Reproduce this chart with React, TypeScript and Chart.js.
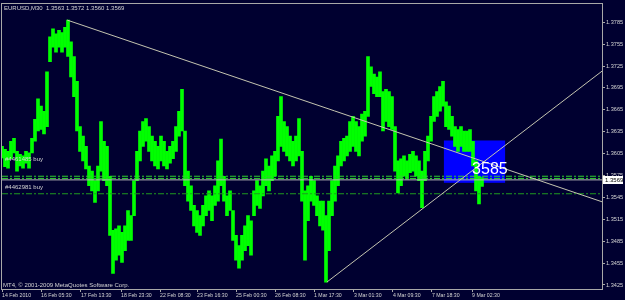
import { useEffect, useRef } from 'react';
import { Chart, registerables } from 'chart.js';

Chart.register(...registerables);

// ---- data ----
const chartTitle = 'EURUSD,M30  1.3563 1.3572 1.3560 1.3569';
const copyright = 'MT4, \u00a9 2001-2009 MetaQuotes Software Corp.';

// one entry per sampled slot (left to right)
const highs = [
  1.3615, 1.3611, 1.3608, 1.3622, 1.3626, 1.3608, 1.3604, 1.3602, 1.3608, 1.3606,
  1.3626, 1.3652, 1.3680, 1.3670, 1.3663, 1.3717, 1.3765, 1.3776, 1.3769, 1.3774,
  1.3771, 1.3778, 1.3788, 1.3758, 1.3738, 1.3704, 1.3642, 1.3629, 1.3615, 1.3588,
  1.3581, 1.3568, 1.3588, 1.3649, 1.3622, 1.3615, 1.3574, 1.3500, 1.3502, 1.3506,
  1.3497, 1.3506, 1.3527, 1.3520, 1.3568, 1.3608, 1.3636, 1.3649, 1.3653, 1.3642,
  1.3629, 1.3622, 1.3615, 1.3629, 1.3622, 1.3608, 1.3615, 1.3622, 1.3642, 1.3663,
  1.3693, 1.3636, 1.3581, 1.3561, 1.3534, 1.3527, 1.3520, 1.3534, 1.3547, 1.3554,
  1.3547, 1.3561, 1.3595, 1.3625, 1.3574, 1.3547, 1.3554, 1.3527, 1.3493, 1.3479,
  1.3493, 1.3506, 1.3520, 1.3513, 1.3554, 1.3568, 1.3561, 1.3581, 1.3598, 1.3588,
  1.3602, 1.3608, 1.3656, 1.3683, 1.3649, 1.3642, 1.3629, 1.3622, 1.3629, 1.3653,
  1.3608, 1.3554, 1.3561, 1.3574, 1.3568, 1.3547, 1.3540, 1.3540, 1.3520, 1.3540,
  1.3568, 1.3588, 1.3602, 1.3622, 1.3626, 1.3629, 1.3649, 1.3656, 1.3649, 1.3642,
  1.3659, 1.3663, 1.3738, 1.3724, 1.3714, 1.3710, 1.3717, 1.3690, 1.3693, 1.3690,
  1.3683, 1.3642, 1.3595, 1.3598, 1.3602, 1.3595, 1.3604, 1.3608, 1.3602, 1.3595,
  1.3581, 1.3608, 1.3629, 1.3656, 1.3683, 1.3690, 1.3697, 1.3704, 1.3676, 1.3670,
  1.3656, 1.3642, 1.3638, 1.3642, 1.3636, 1.3636, 1.3638, 1.3622, 1.3595, 1.3574,
  1.3572,
];
const lows = [
  1.3599, 1.3587, 1.3585, 1.3598, 1.3606, 1.3581, 1.3588, 1.3585, 1.3592, 1.3585,
  1.3606, 1.3622, 1.3636, 1.3638, 1.3632, 1.3642, 1.3731, 1.3751, 1.3744, 1.3751,
  1.3744, 1.3751, 1.3738, 1.3710, 1.3683, 1.3636, 1.3608, 1.3595, 1.3584, 1.3561,
  1.3554, 1.3538, 1.3554, 1.3581, 1.3568, 1.3561, 1.3493, 1.3441, 1.3459, 1.3466,
  1.3456, 1.3472, 1.3486, 1.3486, 1.3520, 1.3568, 1.3595, 1.3615, 1.3622, 1.3608,
  1.3595, 1.3588, 1.3584, 1.3595, 1.3588, 1.3584, 1.3592, 1.3598, 1.3608, 1.3629,
  1.3636, 1.3561, 1.3540, 1.3527, 1.3506, 1.3497, 1.3493, 1.3506, 1.3520, 1.3527,
  1.3513, 1.3534, 1.3540, 1.3561, 1.3540, 1.3520, 1.3527, 1.3486, 1.3459, 1.3448,
  1.3459, 1.3472, 1.3479, 1.3466, 1.3520, 1.3534, 1.3530, 1.3547, 1.3561, 1.3554,
  1.3568, 1.3574, 1.3595, 1.3615, 1.3608, 1.3602, 1.3595, 1.3588, 1.3595, 1.3602,
  1.3540, 1.3459, 1.3513, 1.3540, 1.3534, 1.3520, 1.3506, 1.3500, 1.3429, 1.3472,
  1.3520, 1.3540, 1.3561, 1.3588, 1.3595, 1.3602, 1.3608, 1.3615, 1.3608, 1.3602,
  1.3622, 1.3629, 1.3656, 1.3697, 1.3687, 1.3683, 1.3683, 1.3636, 1.3649, 1.3642,
  1.3638, 1.3581, 1.3551, 1.3561, 1.3574, 1.3570, 1.3579, 1.3581, 1.3574, 1.3568,
  1.3531, 1.3568, 1.3595, 1.3622, 1.3649, 1.3656, 1.3663, 1.3670, 1.3642, 1.3638,
  1.3629, 1.3615, 1.3608, 1.3615, 1.3608, 1.3608, 1.3608, 1.3588, 1.3554, 1.3536,
  1.3560,
];

const timeTickSlots = [0, 13, 26.3, 39.7, 52.7, 65, 78, 91, 104, 117.3, 130.3, 143.3, 156.7];
const timeTickLabels = [
  '14 Feb 2010', '16 Feb 05:30', '17 Feb 13:30', '18 Feb 23:30', '22 Feb 08:30',
  '23 Feb 16:30', '25 Feb 00:30', '26 Feb 08:30', '1 Mar 17:30', '3 Mar 01:30',
  '4 Mar 09:30', '7 Mar 18:30', '9 Mar 02:30',
];
const priceTicks = [
  1.3425, 1.3455, 1.3485, 1.3515, 1.3545, 1.3575, 1.3605, 1.3635, 1.3665, 1.3695,
  1.3725, 1.3755, 1.3785,
];
const priceMin = 1.34195;
const priceMax = 1.38095;
const slotMax = 200;

const bidPrice = 1.3569;
const orderLevels = [1.3574, 1.3571];
const orderLevelLow = 1.3550;
const orderNames = ['#4461485 buy', '#4462981 buy'];
const orderNamePrices = [1.3593, 1.3555];

const trendDownX = [21.7, 200];
const trendDownY = [1.3788, 1.3539];
const trendUpX = [108.3, 200];
const trendUpY = [1.3429, 1.3718];

const boxX = [147.3, 167.7];
const boxY = [1.3623, 1.3565];
const boxLabel = '3585';
const boxLabelX = 156.7;
const boxLabelY = 1.3577;

// ---- styles ----
const BG = '#000030';
const FG = '#d4d4d4';
const FRAME = '#a8a8a8';
const TREND = '#c4c4b0';
const FONT = '"Liberation Sans", Arial, sans-serif';

const mtPlugin = {
  id: 'mt',
  beforeDraw(chart: any) {
    const { ctx, width, height } = chart;
    ctx.save();
    ctx.fillStyle = BG;
    ctx.fillRect(0, 0, width, height);
    ctx.restore();
  },
  beforeDatasetsDraw(chart: any) {
    const { ctx, chartArea } = chart;
    const xs = chart.scales.x;
    const ys = chart.scales.y;
    ctx.save();
    ctx.beginPath();
    ctx.rect(chartArea.left, chartArea.top, chartArea.right - chartArea.left, chartArea.bottom - chartArea.top);
    ctx.clip();
    const l = xs.getPixelForValue(boxX[0]);
    const r = xs.getPixelForValue(boxX[1]);
    const t = ys.getPixelForValue(boxY[0]);
    const b = ys.getPixelForValue(boxY[1]);
    ctx.fillStyle = '#0000ff';
    ctx.fillRect(l, t, r - l, b - t);
    ctx.restore();
  },
  afterDatasetsDraw(chart: any) {
    const { ctx } = chart;
    const xs = chart.scales.x;
    const ys = chart.scales.y;
    ctx.save();
    ctx.fillStyle = '#ffffff';
    ctx.font = `16px ${FONT}`;
    ctx.textBaseline = 'alphabetic';
    ctx.textAlign = 'left';
    ctx.fillText(boxLabel, xs.getPixelForValue(boxLabelX), ys.getPixelForValue(boxLabelY));

    ctx.fillStyle = FG;
    ctx.font = `6px ${FONT}`;
    ctx.textBaseline = 'bottom';
    orderNames.forEach((n, i) => {
      ctx.fillText(n, xs.getPixelForValue(1), ys.getPixelForValue(orderNamePrices[i]));
    });
    ctx.restore();
  },
  afterDraw(chart: any) {
    const { ctx, chartArea } = chart;
    const ys = chart.scales.y;
    ctx.save();
    // frame
    ctx.strokeStyle = FRAME;
    ctx.lineWidth = 1;
    ctx.strokeRect(
      Math.round(chartArea.left) - 0.5,
      Math.round(chartArea.top) - 0.5,
      Math.round(chartArea.right - chartArea.left) + 1,
      Math.round(chartArea.bottom - chartArea.top) + 1
    );
    // title + copyright
    ctx.fillStyle = FG;
    ctx.font = `6px ${FONT}`;
    ctx.textAlign = 'left';
    ctx.textBaseline = 'middle';
    ctx.fillText(chartTitle, chartArea.left + 2, chartArea.top + 4);
    ctx.fillText(copyright, chartArea.left + 1, chartArea.bottom - 4);
    // bid price box on the axis
    const yb = ys.getPixelForValue(bidPrice);
    ctx.fillStyle = '#ffffff';
    ctx.fillRect(chartArea.right + 1, Math.round(yb) - 4, 20, 8);
    ctx.fillStyle = '#000000';
    ctx.fillText(bidPrice.toFixed(4), chartArea.right + 3, yb + 0.5);
    ctx.restore();
  },
};

export default function App() {
  const ref = useRef<HTMLCanvasElement | null>(null);

  useEffect(() => {
    if (!ref.current) return;
    const barData = highs.map((h, i) => ({ x: i, y: [lows[i], h] }));
    const line = (xv: number[], yv: number[]) => xv.map((x, i) => ({ x, y: yv[i] }));
    const hline = (p: number) => [{ x: 0, y: p }, { x: slotMax, y: p }];

    const chart = new Chart(ref.current, {
      type: 'bar',
      data: {
        datasets: [
          {
            type: 'line',
            data: hline(orderLevels[0]) as any,
            borderColor: '#2fd02f',
            borderWidth: 1,
            borderDash: [6, 2, 2, 2],
            pointRadius: 0,
            order: 1,
          },
          {
            type: 'line',
            data: hline(orderLevels[1]) as any,
            borderColor: '#2fd02f',
            borderWidth: 1,
            borderDash: [6, 2, 2, 2],
            pointRadius: 0,
            order: 1,
          },
          {
            type: 'line',
            data: hline(orderLevelLow) as any,
            borderColor: '#1f9a1f',
            borderWidth: 1,
            borderDash: [6, 2, 2, 2],
            pointRadius: 0,
            order: 1,
          },
          {
            type: 'line',
            data: hline(bidPrice) as any,
            borderColor: '#b8b8b8',
            borderWidth: 1,
            pointRadius: 0,
            order: 1,
          },
          {
            type: 'bar',
            data: barData as any,
            backgroundColor: '#00ff00',
            borderWidth: 0,
            barThickness: 3,
            grouped: false,
            order: 2,
          },
          {
            type: 'line',
            data: line(trendDownX, trendDownY) as any,
            borderColor: TREND,
            borderWidth: 1,
            pointRadius: 0,
            order: 0,
          },
          {
            type: 'line',
            data: line(trendUpX, trendUpY) as any,
            borderColor: TREND,
            borderWidth: 1,
            pointRadius: 0,
            order: 0,
          },
        ],
      },
      options: {
        animation: false,
        responsive: true,
        maintainAspectRatio: false,
        events: [],
        layout: { padding: { left: 2, top: 2, right: 0, bottom: 0 } },
        plugins: { legend: { display: false }, tooltip: { enabled: false } },
        scales: {
          x: {
            type: 'linear',
            min: 0,
            max: slotMax,
            offset: false,
            afterBuildTicks: (s: any) => {
              s.ticks = timeTickSlots.map((v) => ({ value: v }));
            },
            afterFit: (s: any) => {
              s.height = 11;
            },
            grid: { drawOnChartArea: false, drawTicks: true, tickLength: 3, color: FRAME, offset: false },
            border: { display: true, color: FRAME },
            ticks: {
              autoSkip: false,
              maxRotation: 0,
              minRotation: 0,
              align: 'start',
              padding: 0,
              color: FG,
              font: { family: FONT, size: 5.2 },
              callback: (_v: any, i: number) => timeTickLabels[i],
            },
          },
          y: {
            type: 'linear',
            position: 'right',
            min: priceMin,
            max: priceMax,
            afterBuildTicks: (s: any) => {
              s.ticks = priceTicks.map((v) => ({ value: v }));
            },
            afterFit: (s: any) => {
              s.width = 23;
            },
            grid: { drawOnChartArea: false, drawTicks: true, tickLength: 3, color: FRAME },
            border: { display: true, color: FRAME },
            ticks: {
              padding: 1,
              color: FG,
              font: { family: FONT, size: 5.6 },
              callback: (v: any) => Number(v).toFixed(4),
            },
          },
        },
      } as any,
      plugins: [mtPlugin],
    });
    return () => chart.destroy();
  }, []);

  return (
    <div style={{ position: 'fixed', left: 0, top: 0, width: 625, height: 300, background: BG }}>
      <canvas ref={ref} />
    </div>
  );
}
